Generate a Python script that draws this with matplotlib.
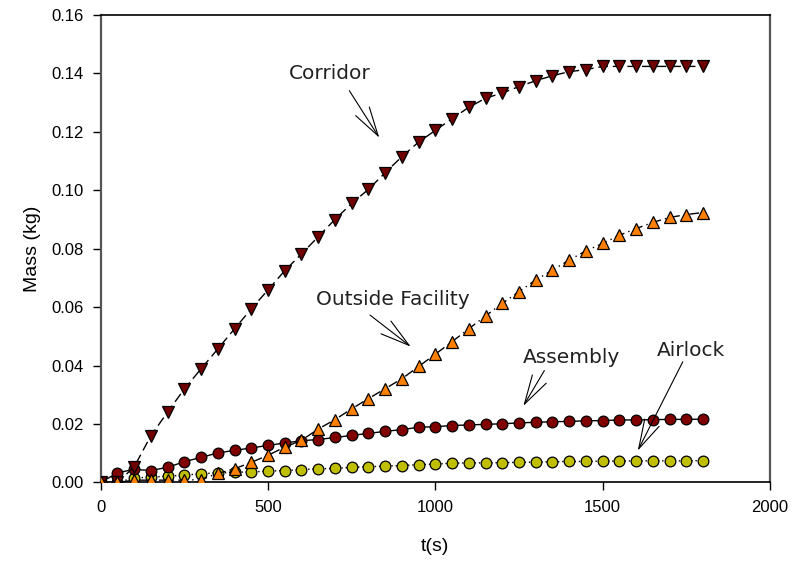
import matplotlib
matplotlib.use("Agg")
import matplotlib.pyplot as plt

t = [i * 50 for i in range(37)]

corridor = [0.0, 0.0, 0.0053, 0.0160, 0.0241, 0.0320, 0.0389, 0.0457, 0.0526, 0.0594,
            0.0659, 0.0725, 0.0782, 0.0841, 0.0900, 0.0955, 0.1003, 0.1060, 0.1115, 0.1165,
            0.1205, 0.1245, 0.1284, 0.1315, 0.1333, 0.1355, 0.1375, 0.1392, 0.1406, 0.1413,
            0.1424, 0.1424, 0.1424, 0.1424, 0.1424, 0.1424, 0.1424]

outside = [0.0, 0.0, 0.0008, 0.0008, 0.0008, 0.0008, 0.0010, 0.0031, 0.0047, 0.0069,
           0.0093, 0.0121, 0.0144, 0.0183, 0.0215, 0.0252, 0.0287, 0.0321, 0.0355, 0.0397,
           0.0439, 0.0482, 0.0526, 0.0570, 0.0613, 0.0653, 0.0693, 0.0727, 0.0761, 0.0793,
           0.0818, 0.0846, 0.0869, 0.0890, 0.0907, 0.0917, 0.0924]

assembly = [0.0, 0.0033, 0.0045, 0.0041, 0.0052, 0.0071, 0.0086, 0.0101, 0.0110, 0.0118,
            0.0127, 0.0135, 0.0143, 0.0147, 0.0154, 0.0161, 0.0168, 0.0175, 0.0181, 0.0189,
            0.0191, 0.0195, 0.0197, 0.0199, 0.0201, 0.0204, 0.0206, 0.0208, 0.0209, 0.0211,
            0.0212, 0.0214, 0.0214, 0.0215, 0.0216, 0.0216, 0.0217]

airlock = [0.0, 0.0, 0.0016, 0.0018, 0.0022, 0.0025, 0.0030, 0.0033, 0.0035, 0.0036,
           0.0039, 0.0041, 0.0044, 0.0047, 0.0048, 0.0052, 0.0054, 0.0056, 0.0058, 0.0061,
           0.0063, 0.0066, 0.0067, 0.0067, 0.0068, 0.0069, 0.0070, 0.0071, 0.0072, 0.0072,
           0.0073, 0.0073, 0.0074, 0.0074, 0.0074, 0.0074, 0.0075]

x_ticks = [0, 500, 1000, 1500, 2000]
y_ticks = [0.00, 0.02, 0.04, 0.06, 0.08, 0.10, 0.12, 0.14, 0.16]

# label: (text centre, arrow tail, arrow tip)
labels = {
    "Corridor": ((685, 0.1398), (743, 0.1341), (832.6, 0.1180)),
    "Outside Facility": ((874, 0.0627), (804.8, 0.0573), (926.5, 0.0465)),
    "Assembly": ((1408, 0.0428), (1325.8, 0.0383), (1263, 0.0262)),
    "Airlock": ((1764, 0.0451), (1739.4, 0.0413), (1604.9, 0.0109)),
}

plt.rcParams['font.family'] = ['Liberation Sans', 'DejaVu Sans']

fig = plt.figure(figsize=(7.92, 5.63), dpi=100)
ax = fig.add_axes([0.1271, 0.143, 0.9722 - 0.1271, 0.9734 - 0.143])

ax.plot(t, airlock, linestyle=(0, (1, 2)), color='black', lw=1,
        marker='o', markersize=7.7, markerfacecolor='#bfbf00', markeredgecolor='black',
        markeredgewidth=0.9, zorder=2)
ax.plot(t, assembly, linestyle='-', color='black', lw=1,
        marker='o', markersize=7.7, markerfacecolor='#800000', markeredgecolor='black',
        markeredgewidth=0.9, zorder=3)
ax.plot(t, corridor, linestyle=(0, (7, 3.5)), color='black', lw=1,
        marker='v', markersize=8, markerfacecolor='#700000', markeredgecolor='black',
        markeredgewidth=0.9, zorder=4)
ax.plot(t, outside, linestyle=(0, (7, 3, 1, 3)), color='black', lw=1,
        marker='^', markersize=8, markerfacecolor='#ff8000', markeredgecolor='black',
        markeredgewidth=0.9, zorder=5)

for name, (tc, tail, tip) in labels.items():
    ax.text(tc[0], tc[1], name, ha='center', va='center', fontsize=14.5,
            family='DejaVu Sans', color='#222222', zorder=6)
    ax.annotate('', xy=tip, xytext=tail,
                arrowprops=dict(arrowstyle='->,head_length=2.1,head_width=0.58',
                                mutation_scale=10, shrinkA=0, shrinkB=0,
                                lw=0.8, color='black'), zorder=6)

ax.set_xlim(0, 2000)
ax.set_ylim(0, 0.16)
ax.set_xticks(x_ticks)
ax.set_yticks(y_ticks)
ax.set_xticklabels([str(v) for v in x_ticks])
ax.set_yticklabels([f"{v:.2f}" for v in y_ticks])
ax.tick_params(axis='both', direction='out', length=5.5, width=1, labelsize=12, pad=7)

ax.set_xlabel('t(s)', fontsize=14, labelpad=17)
ax.set_ylabel('Mass (kg)', fontsize=14, labelpad=7)

for side in ['top', 'bottom']:
    ax.spines[side].set_color('black')
    ax.spines[side].set_linewidth(1.2)
for side in ['left', 'right']:
    ax.spines[side].set_color('#555555')
    ax.spines[side].set_linewidth(1.6)

fig.savefig('out.png', dpi=100)
